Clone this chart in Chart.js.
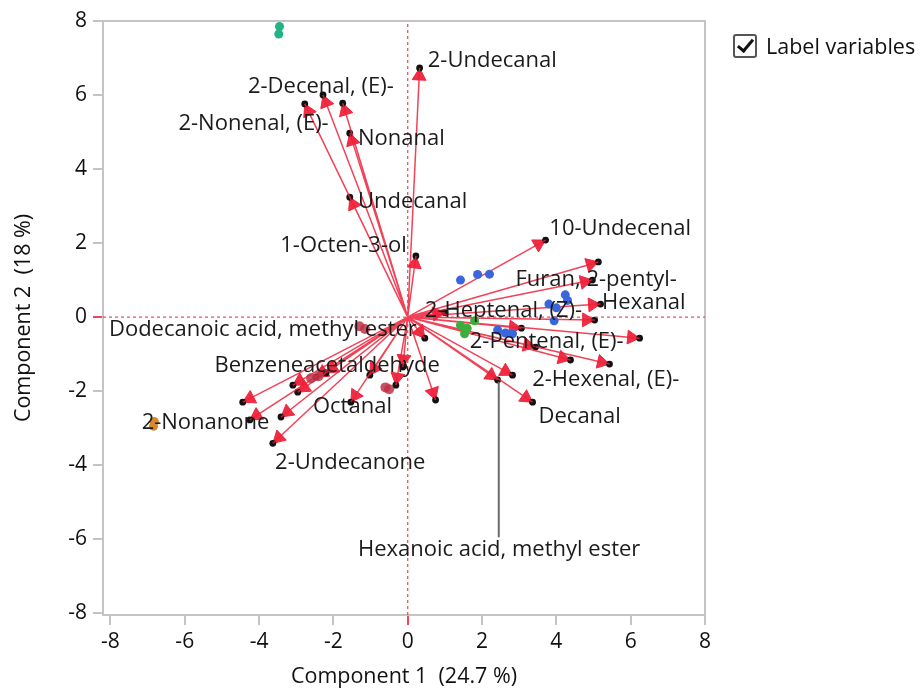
<!DOCTYPE html>
<html>
<head>
<meta charset="utf-8">
<script src="https://cdn.jsdelivr.net/npm/chart.js@4.4.1/dist/chart.umd.min.js"></script>
<style>
  html, body { margin: 0; padding: 0; background: #fff; }
  #wrap { position: relative; width: 920px; height: 690px; }
  #biplot { position: absolute; left: 0; top: 0; }
  #toggle { position: absolute; left: 733px; top: 31px; display: flex; align-items: center;
            font-family: "Open Sans", sans-serif; font-size: 21.5px; color: #111; white-space: nowrap; }
  #toggle .box { width: 20px; height: 20px; border: 2px solid #555; border-radius: 3px;
                 position: relative; margin-right: 9px; background: #fff; }
  #toggle .box::after { content: ""; position: absolute; left: 6px; top: 0px; width: 6px; height: 13px;
                        border: solid #111; border-width: 0 3px 3px 0; transform: rotate(40deg); }
</style>
</head>
<body>
<div id="wrap">
  <canvas id="biplot" width="920" height="690"></canvas>
  <div id="toggle"><span class="box"></span><span>Label variables</span></div>
</div>
<script>
// axis ticks
const xTicks = [-8, -6, -4, -2, 0, 2, 4, 6, 8];
const yTicks = [-8, -6, -4, -2, 0, 2, 4, 6, 8];

// loading vectors (arrow tips)
const loadX = [0.32, -2.28, -1.75, -2.77, -1.56, -1.56, 0.22,
               3.71, 5.13, 4.97, 5.19, 5.03, 1.0, 3.06, 6.24, 3.44, 4.38, 5.43,
               2.42, 2.82, 3.36, 0.75, 0.46,
               -0.13, -0.32, -1.02, -1.53, -2.2, -2.47, -2.96, -3.09, -3.41, -3.63, -4.25, -4.44];
const loadY = [6.73, 6.0, 5.78, 5.76, 4.97, 3.24, 1.65,
               2.08, 1.49, 1.0, 0.35, -0.08, 0.12, -0.3, -0.57, -0.81, -1.16, -1.27,
               -1.7, -1.57, -2.3, -2.24, -0.57,
               -1.35, -1.84, -1.57, -2.3, -1.51, -1.62, -2.03, -1.84, -2.7, -3.41, -2.78, -2.3];

// variable labels and where they sit
const labelNames = ["2-Undecanal", "2-Decenal, (E)-", "2-Nonenal, (E)-", "Nonanal", "Undecanal",
  "1-Octen-3-ol", "10-Undecenal", "Furan, 2-pentyl-", "Hexanal", "2-Heptenal, (Z)-",
  "Dodecanoic acid, methyl ester", "2-Pentenal, (E)-", "Benzeneacetaldehyde", "2-Hexenal, (E)-",
  "Octanal", "Decanal", "2-Nonanone", "2-Undecanone", "Hexanoic acid, methyl ester"];
const labelX = [0.54, -4.3, -6.17, -1.34, -1.34, -3.43, 3.81, 2.9, 5.23, 0.46,
  -8.04, 1.67, -5.2, 3.35, -2.55, 3.52, -7.16, -3.57, -1.34];
const labelY = [6.92, 6.23, 5.23, 4.83, 3.13, 1.94, 2.4, 1.02, 0.38, 0.16,
  -0.35, -0.67, -1.32, -1.7, -2.43, -2.7, -2.86, -3.94, -6.28];

// leader line for "Hexanoic acid, methyl ester"
const leaderX = [2.45, 2.45];
const leaderY = [-1.75, -5.95];

// observation scores by group
const tealX = [-3.45, -3.47];
const tealY = [7.85, 7.65];
const orangeX = [-6.82, -6.84];
const orangeY = [-2.82, -2.95];
const blueX = [1.42, 1.88, 2.2, 3.8, 4.24, 4.0, 3.94, 2.42, 2.63, 2.82, 4.3];
const blueY = [1.0, 1.15, 1.16, 0.35, 0.6, 0.25, -0.1, -0.35, -0.43, -0.45, 0.45];
const greenX = [1.42, 1.53, 1.8, 1.6];
const greenY = [-0.22, -0.45, -0.1, -0.3];
const maroonX = [-1.3, -1.15, -0.6, -0.5, -2.6, -2.4];
const maroonY = [-0.25, -0.32, -1.9, -1.95, -1.65, -1.6];

const X_MIN = -8.2, X_MAX = 8.0, Y_MIN = -8.05, Y_MAX = 8.0;
const PX_PER_UNIT = 37.1;
const HEAD = 8;
const RED = "rgba(238, 34, 58, 0.85)";
const FONT = "'Open Sans', sans-serif";

const pts = (xs, ys) => xs.map((x, i) => ({ x: x, y: ys[i] }));

// arrow shafts: origin -> tip, separated by gaps
const shafts = [];
loadX.forEach((x, i) => {
  shafts.push({ x: 0, y: 0 }, { x: x, y: loadY[i] }, { x: null, y: null });
});
// arrowheads, pulled back so the apex lands on the tip
const heads = loadX.map((x, i) => {
  const y = loadY[i];
  const len = Math.hypot(x, y);
  const back = HEAD / PX_PER_UNIT / len;
  return { x: x * (1 - back), y: y * (1 - back) };
});
const headRot = loadX.map((x, i) => Math.atan2(x, loadY[i]) * 180 / Math.PI);

const frame = {
  id: "frame",
  beforeDatasetsDraw(chart) {
    const a = chart.chartArea, ctx = chart.ctx;
    ctx.save();
    ctx.strokeStyle = "#c4c4c4";
    ctx.lineWidth = 2;
    ctx.strokeRect(a.left, a.top, a.right - a.left, a.bottom - a.top);
    ctx.restore();
  }
};

const varLabels = {
  id: "varLabels",
  afterDatasetsDraw(chart) {
    const ctx = chart.ctx, xs = chart.scales.x, ys = chart.scales.y;
    ctx.save();
    ctx.font = "22px " + FONT;
    ctx.fillStyle = "#1b1b1b";
    ctx.textAlign = "left";
    ctx.textBaseline = "middle";
    labelNames.forEach((name, i) => {
      ctx.fillText(name, xs.getPixelForValue(labelX[i]), ys.getPixelForValue(labelY[i]));
    });
    ctx.restore();
  }
};

const tickColor = (c) => (c.tick && c.tick.value === 0 ? "rgba(240,60,80,0.95)" : "#c4c4c4");

new Chart(document.getElementById("biplot"), {
  type: "scatter",
  data: {
    datasets: [
      { data: [{ x: 0, y: Y_MIN }, { x: 0, y: Y_MAX }], showLine: true, pointRadius: 0,
        borderColor: "rgba(240,60,80,0.9)", borderWidth: 1.3, borderDash: [3, 3] },
      { data: [{ x: X_MIN, y: 0 }, { x: X_MAX, y: 0 }], showLine: true, pointRadius: 0,
        borderColor: "rgba(240,60,80,0.9)", borderWidth: 1.3, borderDash: [3, 3] },
      { data: pts(leaderX, leaderY), showLine: true, pointRadius: 0,
        borderColor: "#6a6a6a", borderWidth: 2 },
      { data: pts(tealX, tealY), pointRadius: 4.5, backgroundColor: "#1fb386", borderWidth: 0 },
      { data: pts(orangeX, orangeY), pointRadius: 4.5, backgroundColor: "#d9882a", borderWidth: 0 },
      { data: pts(blueX, blueY), pointRadius: 4.5, backgroundColor: "#3a66dc", borderWidth: 0 },
      { data: pts(greenX, greenY), pointRadius: 4.5, backgroundColor: "#3cae3c", borderWidth: 0 },
      { data: pts(maroonX, maroonY), pointRadius: 5, backgroundColor: "rgba(190,50,70,0.85)", borderWidth: 0 },
      { data: shafts, showLine: true, spanGaps: false, pointRadius: 0,
        borderColor: RED, borderWidth: 1.5 },
      { data: pts(loadX, loadY), pointRadius: 3.4, backgroundColor: "#111", borderWidth: 0 },
      { data: heads, pointStyle: "triangle", pointRadius: HEAD, rotation: headRot,
        backgroundColor: "rgba(238, 34, 58, 0.95)", borderColor: "rgba(238, 34, 58, 0.95)", borderWidth: 1 }
    ]
  },
  options: {
    responsive: false,
    animation: false,
    layout: { padding: { top: 21, right: 215, left: 0, bottom: 0 } },
    plugins: { legend: { display: false }, tooltip: { enabled: false } },
    elements: { point: { hoverRadius: 0 } },
    scales: {
      x: {
        type: "linear", min: X_MIN, max: X_MAX,
        afterBuildTicks: (s) => { s.ticks = xTicks.map(v => ({ value: v })); },
        afterFit: (s) => { s.height = 75; },
        grid: { drawOnChartArea: false, drawTicks: true, tickLength: 10, color: tickColor, lineWidth: 2 },
        border: { display: true, color: "#c4c4c4", width: 2 },
        ticks: { color: "#111", padding: 4, font: { family: FONT, size: 21 } },
        title: { display: true, text: "Component 1  (24.7 %)", color: "#111",
                 font: { family: FONT, size: 21.5 }, padding: { top: 0, bottom: 0 } }
      },
      y: {
        type: "linear", min: Y_MIN, max: Y_MAX,
        afterBuildTicks: (s) => { s.ticks = yTicks.map(v => ({ value: v })); },
        afterFit: (s) => { s.width = 103; },
        grid: { drawOnChartArea: false, drawTicks: true, tickLength: 10, color: tickColor, lineWidth: 2 },
        border: { display: true, color: "#c4c4c4", width: 2 },
        ticks: { color: "#111", padding: 6, font: { family: FONT, size: 21 } },
        title: { display: true, text: "Component 2  (18 %)", color: "#111",
                 font: { family: FONT, size: 21.5 }, padding: { top: 11, bottom: 0 } }
      }
    }
  },
  plugins: [frame, varLabels]
});
</script>
</body>
</html>
